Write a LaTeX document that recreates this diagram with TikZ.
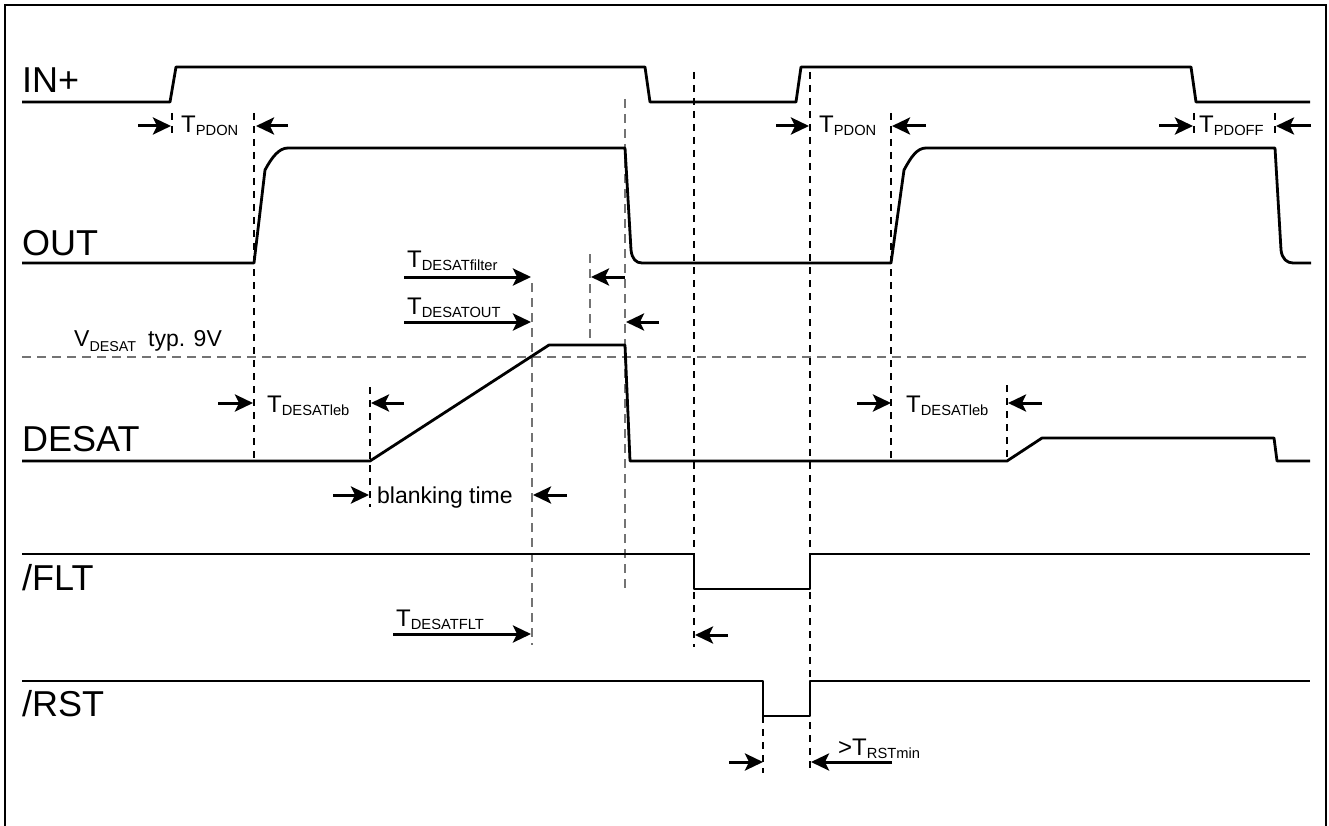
\documentclass[tikz,border=0pt]{standalone}
\usepackage{fontspec}
\setmainfont{Liberation Sans}
\usetikzlibrary{arrows.meta}
\newcommand\TsubLabel[2]{{\fontsize{24}{24}\selectfont #1}\raisebox{-3pt}{\fontsize{14.7}{14.7}\selectfont #2}}
\begin{document}
\begin{tikzpicture}[x=1pt,y=-1pt,
 sig/.style={line width=2.8pt, line join=round},
 lbl/.style={anchor=base west, inner sep=0pt, font=\fontsize{36}{36}\selectfont},
 tl/.style={anchor=base west, inner sep=0pt},
 guide/.style={line width=1.1pt, dash pattern=on 7pt off 6pt},
 gguide/.style={line width=1.3pt, dash pattern=on 9pt off 6pt, draw=black!55},
 arr/.style={line width=3pt, -{Stealth[length=18pt,width=17pt,inset=4pt]}},
]
\useasboundingbox (0,0) rectangle (1329,826);
\draw[line width=1.5pt] (5,830) -- (5,5) -- (1326,5) -- (1326,830);

% guide lines
\draw[gguide] (22,357) -- (1310,357);
\draw[guide] (172,113) -- (172,137);
\draw[guide] (254,113) -- (254,461);
\draw[guide] (370,387) -- (370,507);
\draw[gguide] (532,283) -- (532,645);
\draw[gguide] (590,254) -- (590,345);
\draw[gguide] (625,99) -- (625,588);
\draw[guide] (694,72) -- (694,647);
\draw[guide] (763,716) -- (763,773);
\draw[guide] (810,72) -- (810,773);
\draw[guide] (891,113) -- (891,461);
\draw[guide] (1007,385) -- (1007,461);
\draw[guide] (1194,113) -- (1194,137);
\draw[guide] (1275,113) -- (1275,137);

% signals
\draw[sig] (22,102) -- (170,102) -- (176,67) -- (645,67) -- (650,102) -- (796,102) -- (801,67) -- (1191,67) -- (1196,102) -- (1310,102);
\draw[sig] (22,263) -- (254,263) -- (265,170) .. controls (272,157) and (279,148) .. (288,148) -- (625,148) -- (631,250) .. controls (632,259) and (636,263) .. (642,263) -- (891,263) -- (904,170) .. controls (911,157) and (917,148) .. (926,148) -- (1275,148) -- (1281,250) .. controls (1282,259) and (1287,263) .. (1293,263) -- (1311,263);
\draw[sig] (22,461) -- (370,461) -- (549,345) -- (625,345) -- (630,461) -- (1007,461) -- (1042,438) -- (1274,438) -- (1277,461) -- (1310,461);
\draw[sig] (22,554) -- (694,554) -- (694,589) -- (810,589) -- (810,554) -- (1310,554);
\draw[sig] (22,681) -- (763,681) -- (763,716) -- (810,716) -- (810,681) -- (1310,681);

% signal names
\node[lbl] (inp) at (22,93) {IN+};
\node[lbl] (out) at (22,255) {OUT};
\node[lbl] (desat) at (22,451) {DESAT};
\node[lbl] (flt) at (22,590) {/FLT};
\node[lbl] (rst) at (22,716) {/RST};

% timing labels
\node[tl] (tpdon1) at (181,133) {\TsubLabel{T}{PDON}};
\node[tl] (tpdon2) at (819,133) {\TsubLabel{T}{PDON}};
\node[tl] (tpdoff) at (1199,133) {\TsubLabel{T}{PDOFF}};
\node[tl] (tfilter) at (407,267) {\TsubLabel{T}{DESATfilter}};
\node[tl] (tdout) at (407,314) {\TsubLabel{T}{DESATOUT}};
\node[tl] (vdesat) at (74,346) {{\fontsize{23}{23}\selectfont V}\raisebox{-5pt}{\fontsize{14.3}{14.3}\selectfont DESAT}\hspace{12pt}{\fontsize{23}{23}\selectfont typ. 9V}};
\node[tl] (tleb1) at (267,412) {\TsubLabel{T}{DESATleb}};
\node[tl] (tleb2) at (906,412) {\TsubLabel{T}{DESATleb}};
\node[tl, font=\fontsize{23}{23}\selectfont] (blank) at (377,503) {blanking time};
\node[tl] (tflt) at (396,626) {\TsubLabel{T}{DESATFLT}};
\node[tl] (trst) at (838,755) {\TsubLabel{>T}{RSTmin}};

% arrows
\draw[arr] (138,126) -- (171,126);
\draw[arr] (288,126) -- (256,126);
\draw[arr] (776,126) -- (809,126);
\draw[arr] (926,126) -- (892,126);
\draw[arr] (1159,126) -- (1193,126);
\draw[arr] (1311,126) -- (1276,126);
\draw[arr] (404,277) -- (531,277);
\draw[arr] (625,277) -- (591,277);
\draw[arr] (404,322) -- (531,322);
\draw[arr] (659,322) -- (626,322);
\draw[arr] (218,403) -- (253,403);
\draw[arr] (404,403) -- (371,403);
\draw[arr] (857,403) -- (891,403);
\draw[arr] (1042,403) -- (1008,403);
\draw[arr] (333,495) -- (369,495);
\draw[arr] (567,495) -- (533,495);
\draw[arr] (393,634) -- (531,634);
\draw[arr] (728,635) -- (695,635);
\draw[arr] (729,762) -- (763,762);
\draw[arr] (892,762) -- (811,762);
\end{tikzpicture}
\end{document}
